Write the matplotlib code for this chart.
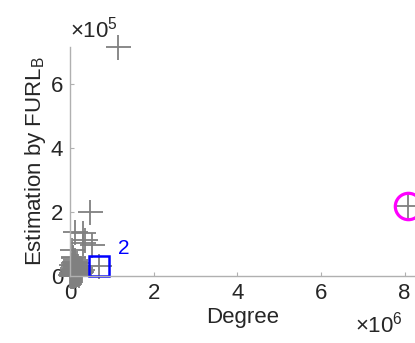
import matplotlib
matplotlib.use("Agg")
import matplotlib.pyplot as plt

plt.rcParams['font.family'] = ['Liberation Sans', 'DejaVu Sans']

# Gray "+" points: degree (x) and FURL_B estimate (y)
deg_x = [1.15e6, 0.48e6, 0.12e6, 0.31e6, 0.36e6, 0.52e6, 0.30e6, 0.05e6,
         0.08e6, 0.10e6, 0.12e6, 0.15e6, 0.05e6, 0.07e6, 0.09e6, 0.11e6,
         0.13e6, 0.18e6, 0.22e6, 0.28e6, 0.04e6, 0.06e6, 0.10e6, 0.14e6,
         0.20e6, 0.25e6, 0.08e6, 0.12e6, 0.03e6, 0.16e6, 0.69e6, 8.09e6,
         0.02e6, 0.04e6, 0.06e6, 0.08e6, 0.10e6, 0.12e6, 0.14e6, 0.16e6,
         0.18e6, 0.20e6, 0.22e6, 0.24e6, 0.26e6, 0.01e6, 0.03e6, 0.05e6,
         0.07e6, 0.09e6, 0.11e6, 0.13e6, 0.15e6, 0.17e6, 0.19e6, 0.21e6,
         0.23e6, 0.06e6, 0.09e6, 0.13e6, 0.04e6, 0.07e6, 0.10e6, 0.02e6]
est_y = [7.16e5, 2.00e5, 1.37e5, 1.34e5, 1.12e5, 0.97e5, 1.03e5, 0.80e5,
         0.55e5, 0.45e5, 0.38e5, 0.30e5, 0.25e5, 0.20e5, 0.15e5, 0.12e5,
         0.10e5, 0.08e5, 0.20e5, 0.18e5, 0.05e5, 0.02e5, 0.01e5, 0.03e5,
         0.06e5, 0.10e5, 0.60e5, 0.50e5, 0.35e5, 0.40e5, 0.31e5, 2.19e5,
         0.00e5, 0.01e5, 0.00e5, 0.02e5, 0.04e5, 0.07e5, 0.05e5, 0.14e5,
         0.12e5, 0.15e5, 0.09e5, 0.25e5, 0.12e5, 0.03e5, 0.08e5, 0.10e5,
         0.12e5, 0.22e5, 0.28e5, 0.18e5, 0.22e5, 0.05e5, 0.30e5, 0.04e5,
         0.14e5, 0.40e5, 0.34e5, 0.45e5, 0.18e5, 0.30e5, 0.00e5, 0.06e5]

sq_x, sq_y, sq_label = 0.69e6, 0.31e5, "2"
circ_x, circ_y = 8.09e6, 2.19e5

x_ticks = [0, 2e6, 4e6, 6e6, 8e6]
x_tick_labels = ["0", "2", "4", "6", "8"]
y_ticks = [0, 2e5, 4e5, 6e5]
y_tick_labels = ["0", "2", "4", "6"]

fig = plt.figure(figsize=(4.15, 3.43), dpi=100)
ax = fig.add_axes([0.1687, 0.1953, 0.8313, 0.6677])

ax.plot(deg_x, est_y, linestyle='none', marker='+', color='#808080',
        markersize=18, markeredgewidth=1.3, clip_on=False)
ax.plot([sq_x], [sq_y], linestyle='none', marker='s', markerfacecolor='none',
        markeredgecolor='#0000ff', markersize=15, markeredgewidth=1.8, clip_on=False)
ax.text(sq_x + 0.45e6, sq_y + 0.55e5, sq_label, color='#0000ff', fontsize=15,
        ha='left', va='center')
ax.plot([circ_x], [circ_y], linestyle='none', marker='o', markerfacecolor='none',
        markeredgecolor='#ff00ff', markersize=19, markeredgewidth=2.3, clip_on=False)

ax.set_xlim(0, 8.25e6)
ax.set_ylim(0, 7.16e5)
ax.set_xticks(x_ticks)
ax.set_xticklabels(x_tick_labels)
ax.set_yticks(y_ticks)
ax.set_yticklabels(y_tick_labels)

for s in ['top', 'right']:
    ax.spines[s].set_visible(False)
for s in ['left', 'bottom']:
    ax.spines[s].set_color('#b0b0b0')
    ax.spines[s].set_linewidth(1.0)
ax.tick_params(direction='in', length=3, color='#b0b0b0', labelsize=16,
               labelcolor='#262626', pad=5)

ax.set_xlabel('Degree', fontsize=16, color='#262626', labelpad=2)
ax.set_ylabel('Estimation by FURL$_\\mathregular{B}$', fontsize=16, color='#262626', labelpad=2)

fig.text(70 / 415, 1 - 30 / 343, '×10$^\\mathregular{5}$', fontsize=16, color='#262626',
         ha='left', va='center')
fig.text(355 / 415, 1 - 325 / 343, '×10$^\\mathregular{6}$', fontsize=16, color='#262626',
         ha='left', va='center')

fig.savefig('out.png', dpi=100)
